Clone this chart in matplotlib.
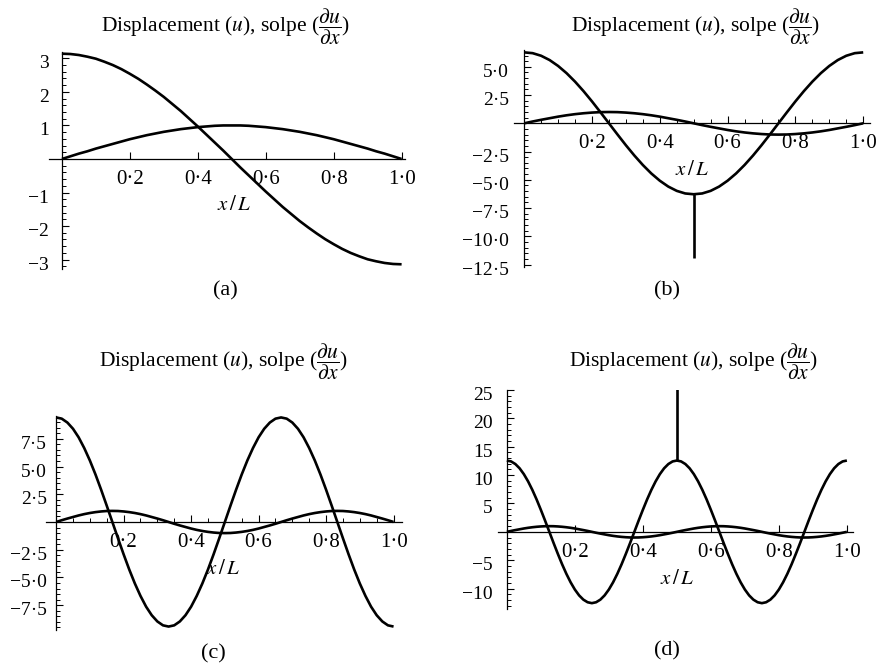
import matplotlib
matplotlib.use("Agg")
import matplotlib.pyplot as plt
from matplotlib.ticker import MultipleLocator
from matplotlib.transforms import ScaledTranslation

plt.rcParams['font.family'] = ['Liberation Serif', 'DejaVu Serif']
plt.rcParams['mathtext.fontset'] = 'stix'

# ---- data ----
x_a = [0.0, 0.025, 0.05, 0.075, 0.1, 0.125, 0.15, 0.175, 0.2, 0.225, 0.25,
       0.275, 0.3, 0.325, 0.35, 0.375, 0.4, 0.425, 0.45, 0.475, 0.5,
       0.525, 0.55, 0.575, 0.6, 0.625, 0.65, 0.675, 0.7, 0.725, 0.75,
       0.775, 0.8, 0.825, 0.85, 0.875, 0.9, 0.925, 0.95, 0.975, 1.0]
x_b = x_a
x_c = [k / 60 for k in range(61)]   # sample positions along x/L
x_d = [k / 80 for k in range(81)]   # sample positions along x/L

u_a = [0.0, 0.08, 0.16, 0.23, 0.31, 0.38, 0.45, 0.52, 0.59, 0.65, 0.71, 0.76, 0.81, 0.85,
       0.89, 0.92, 0.95, 0.97, 0.99, 1.0, 1.0, 1.0, 0.99, 0.97, 0.95, 0.92, 0.89, 0.85,
       0.81, 0.76, 0.71, 0.65, 0.59, 0.52, 0.45, 0.38, 0.31, 0.23, 0.16, 0.08, 0.0]
du_a = [3.14, 3.13, 3.10, 3.05, 2.99, 2.90, 2.80, 2.68, 2.54, 2.39, 2.22, 2.04, 1.85, 1.64,
        1.43, 1.20, 0.97, 0.73, 0.49, 0.25, 0.0, -0.25, -0.49, -0.73, -0.97, -1.20, -1.43,
        -1.64, -1.85, -2.04, -2.22, -2.39, -2.54, -2.68, -2.80, -2.90, -2.99, -3.05, -3.10,
        -3.13, -3.14]

u_b = [0.0, 0.16, 0.31, 0.45, 0.59, 0.71, 0.81, 0.89, 0.95, 0.99, 1.0, 0.99, 0.95, 0.89,
       0.81, 0.71, 0.59, 0.45, 0.31, 0.16, 0.0, -0.16, -0.31, -0.45, -0.59, -0.71, -0.81,
       -0.89, -0.95, -0.99, -1.0, -0.99, -0.95, -0.89, -0.81, -0.71, -0.59, -0.45, -0.31,
       -0.16, 0.0]
du_b = [6.28, 6.21, 5.98, 5.60, 5.08, 4.44, 3.69, 2.85, 1.94, 0.98, 0.0, -0.98, -1.94, -2.85,
        -3.69, -4.44, -5.08, -5.60, -5.98, -6.21, -6.28, -6.21, -5.98, -5.60, -5.08, -4.44,
        -3.69, -2.85, -1.94, -0.98, 0.0, 0.98, 1.94, 2.85, 3.69, 4.44, 5.08, 5.60, 5.98,
        6.21, 6.28]
spike_b_x = [0.5, 0.5]
spike_b_y = [-6.28, -11.9]

u_c = [0.0, 0.16, 0.31, 0.45, 0.59, 0.71, 0.81, 0.89, 0.95, 0.99, 1.0,
       0.99, 0.95, 0.89, 0.81, 0.71, 0.59, 0.45, 0.31, 0.16, 0.0,
       -0.16, -0.31, -0.45, -0.59, -0.71, -0.81, -0.89, -0.95, -0.99, -1.0,
       -0.99, -0.95, -0.89, -0.81, -0.71, -0.59, -0.45, -0.31, -0.16, 0.0,
       0.16, 0.31, 0.45, 0.59, 0.71, 0.81, 0.89, 0.95, 0.99, 1.0,
       0.99, 0.95, 0.89, 0.81, 0.71, 0.59, 0.45, 0.31, 0.16, 0.0]
du_c = [9.42, 9.31, 8.96, 8.40, 7.63, 6.66, 5.54, 4.28, 2.91, 1.47, 0.0,
        -1.47, -2.91, -4.28, -5.54, -6.66, -7.63, -8.40, -8.96, -9.31, -9.42,
        -9.31, -8.96, -8.40, -7.63, -6.66, -5.54, -4.28, -2.91, -1.47, 0.0,
        1.47, 2.91, 4.28, 5.54, 6.66, 7.63, 8.40, 8.96, 9.31, 9.42,
        9.31, 8.96, 8.40, 7.63, 6.66, 5.54, 4.28, 2.91, 1.47, 0.0,
        -1.47, -2.91, -4.28, -5.54, -6.66, -7.63, -8.40, -8.96, -9.31, -9.42]

u_d = [0.0, 0.16, 0.31, 0.45, 0.59, 0.71, 0.81, 0.89, 0.95, 0.99, 1.0,
       0.99, 0.95, 0.89, 0.81, 0.71, 0.59, 0.45, 0.31, 0.16, 0.0,
       -0.16, -0.31, -0.45, -0.59, -0.71, -0.81, -0.89, -0.95, -0.99, -1.0,
       -0.99, -0.95, -0.89, -0.81, -0.71, -0.59, -0.45, -0.31, -0.16, 0.0,
       0.16, 0.31, 0.45, 0.59, 0.71, 0.81, 0.89, 0.95, 0.99, 1.0,
       0.99, 0.95, 0.89, 0.81, 0.71, 0.59, 0.45, 0.31, 0.16, 0.0,
       -0.16, -0.31, -0.45, -0.59, -0.71, -0.81, -0.89, -0.95, -0.99, -1.0,
       -0.99, -0.95, -0.89, -0.81, -0.71, -0.59, -0.45, -0.31, -0.16, 0.0]
du_d = [12.57, 12.41, 11.95, 11.20, 10.17, 8.89, 7.39, 5.71, 3.88, 1.97, 0.0,
        -1.97, -3.88, -5.71, -7.39, -8.89, -10.17, -11.20, -11.95, -12.41, -12.57,
        -12.41, -11.95, -11.20, -10.17, -8.89, -7.39, -5.71, -3.88, -1.97, 0.0,
        1.97, 3.88, 5.71, 7.39, 8.89, 10.17, 11.20, 11.95, 12.41, 12.57,
        12.41, 11.95, 11.20, 10.17, 8.89, 7.39, 5.71, 3.88, 1.97, 0.0,
        -1.97, -3.88, -5.71, -7.39, -8.89, -10.17, -11.20, -11.95, -12.41, -12.57,
        -12.41, -11.95, -11.20, -10.17, -8.89, -7.39, -5.71, -3.88, -1.97, 0.0,
        1.97, 3.88, 5.71, 7.39, 8.89, 10.17, 11.20, 11.95, 12.41, 12.57]
spike_d_x = [0.5, 0.5]
spike_d_y = [12.57, 25.2]

x_ticks = [0.2, 0.4, 0.6, 0.8, 1.0]
x_tick_labels = ["0·2", "0·4", "0·6", "0·8", "1·0"]

y_ticks_a = [-3, -2, -1, 1, 2, 3]
y_labels_a = ["−3", "−2", "−1", "1", "2", "3"]
y_ticks_b = [-12.5, -10, -7.5, -5, -2.5, 2.5, 5]
y_labels_b = ["−12·5", "−10·0", "−7·5", "−5·0", "−2·5", "2·5", "5·0"]
y_ticks_c = [-7.5, -5, -2.5, 2.5, 5, 7.5]
y_labels_c = ["−7·5", "−5·0", "−2·5", "2·5", "5·0", "7·5"]
y_ticks_d = [-10, -5, 5, 10, 15, 20, 25]
y_labels_d = ["−10", "−5", "5", "10", "15", "20", "25"]

panel_names = ["(a)", "(b)", "(c)", "(d)"]
title_text = r"Displacement ($u$), solpe ($\dfrac{\partial u}{\partial x}$)"
xlabel_text = r"$x\,/\,L$"

W, H = 879, 668
fig = plt.figure(figsize=(W / 100, H / 100), dpi=100)
fig.patch.set_facecolor('white')


def fx(px):
    return px / W


def fy(py):
    return 1 - py / H


def make_axes(l, r, t, b):
    return fig.add_axes([fx(l), fy(b), (r - l) / W, (b - t) / H])


panels = [
    dict(box=(49, 405, 52, 269), xlim=(-0.038, 1.01), ylim=(-3.28, 3.19),
         x=x_a, u=u_a, du=du_a, spike=None, yt=y_ticks_a, yl=y_labels_a, ymin=0.2, xmin=None,
         ypad=9.4, title=(226, 31.5), name=(225, 291), xl=(234, 205)),
    dict(box=(514, 870, 50, 267), xlim=(-0.03, 1.02), ylim=(-12.72, 6.49),
         x=x_b, u=u_b, du=du_b, spike=(spike_b_x, spike_b_y), yt=y_ticks_b, yl=y_labels_b,
         ymin=0.5, xmin=0.05, ypad=10.8, title=(696, 31.5), name=(667, 291), xl=(692, 171)),
    dict(box=(46, 402, 416, 630), xlim=(-0.03, 1.025), ylim=(-9.73, 9.55),
         x=x_c, u=u_c, du=du_c, spike=None, yt=y_ticks_c, yl=y_labels_c, ymin=0.5, xmin=0.05,
         ypad=6.7, title=(224, 366), name=(213, 654), xl=(223, 570)),
    dict(box=(498, 853, 390, 609), xlim=(-0.026, 1.018), ylim=(-13.6, 24.9),
         x=x_d, u=u_d, du=du_d, spike=(spike_d_x, spike_d_y), yt=y_ticks_d, yl=y_labels_d,
         ymin=1.0, xmin=None, ypad=10, title=(694, 366), name=(667, 651), xl=(677, 580)),
]

label_shift = ScaledTranslation(0, -3.5 / 100, fig.dpi_scale_trans)

for i, p in enumerate(panels):
    ax = make_axes(*p['box'])
    ax.set_facecolor('none')
    ax.set_xlim(*p['xlim'])
    ax.set_ylim(*p['ylim'])
    for s in ['top', 'right']:
        ax.spines[s].set_visible(False)
    ax.spines['left'].set_position(('data', 0))
    ax.spines['bottom'].set_position(('data', 0))
    for s in ['left', 'bottom']:
        ax.spines[s].set_linewidth(0.9)
    ax.plot(p['x'], p['u'], color='black', lw=1.9, solid_joinstyle='round',
            solid_capstyle='butt')
    ax.plot(p['x'], p['du'], color='black', lw=1.9, solid_joinstyle='round',
            solid_capstyle='butt')
    if p['spike'] is not None:
        ax.plot(p['spike'][0], p['spike'][1], color='black', lw=1.9, solid_capstyle='butt')
    ax.set_xticks(x_ticks)
    ax.set_xticklabels(x_tick_labels)
    ax.set_yticks(p['yt'])
    ax.set_yticklabels(p['yl'])
    ax.yaxis.set_minor_locator(MultipleLocator(p['ymin']))
    if p['xmin'] is not None:
        ax.xaxis.set_minor_locator(MultipleLocator(p['xmin']))
    ax.tick_params(axis='both', which='major', direction='in', length=5, width=0.8,
                   colors='black')
    ax.tick_params(axis='both', which='minor', direction='in', length=3, width=0.7)
    ax.tick_params(axis='x', which='major', pad=8, labelsize=15)
    ax.tick_params(axis='y', which='major', pad=p['ypad'], labelsize=14)
    ax.tick_params(top=False, right=False)
    for lab in ax.get_yticklabels():
        lab.set_transform(lab.get_transform() + label_shift)

    fig.text(fx(p['title'][0]), fy(p['title'][1]), title_text, ha='center', va='baseline',
             fontsize=15.5)
    fig.text(fx(p['name'][0]), fy(p['name'][1]), panel_names[i], ha='center', va='center',
             fontsize=16)
    fig.text(fx(p['xl'][0]), fy(p['xl'][1]), xlabel_text, ha='center', va='center',
             fontsize=15)

fig.savefig("out.png", dpi=100, facecolor='white')
